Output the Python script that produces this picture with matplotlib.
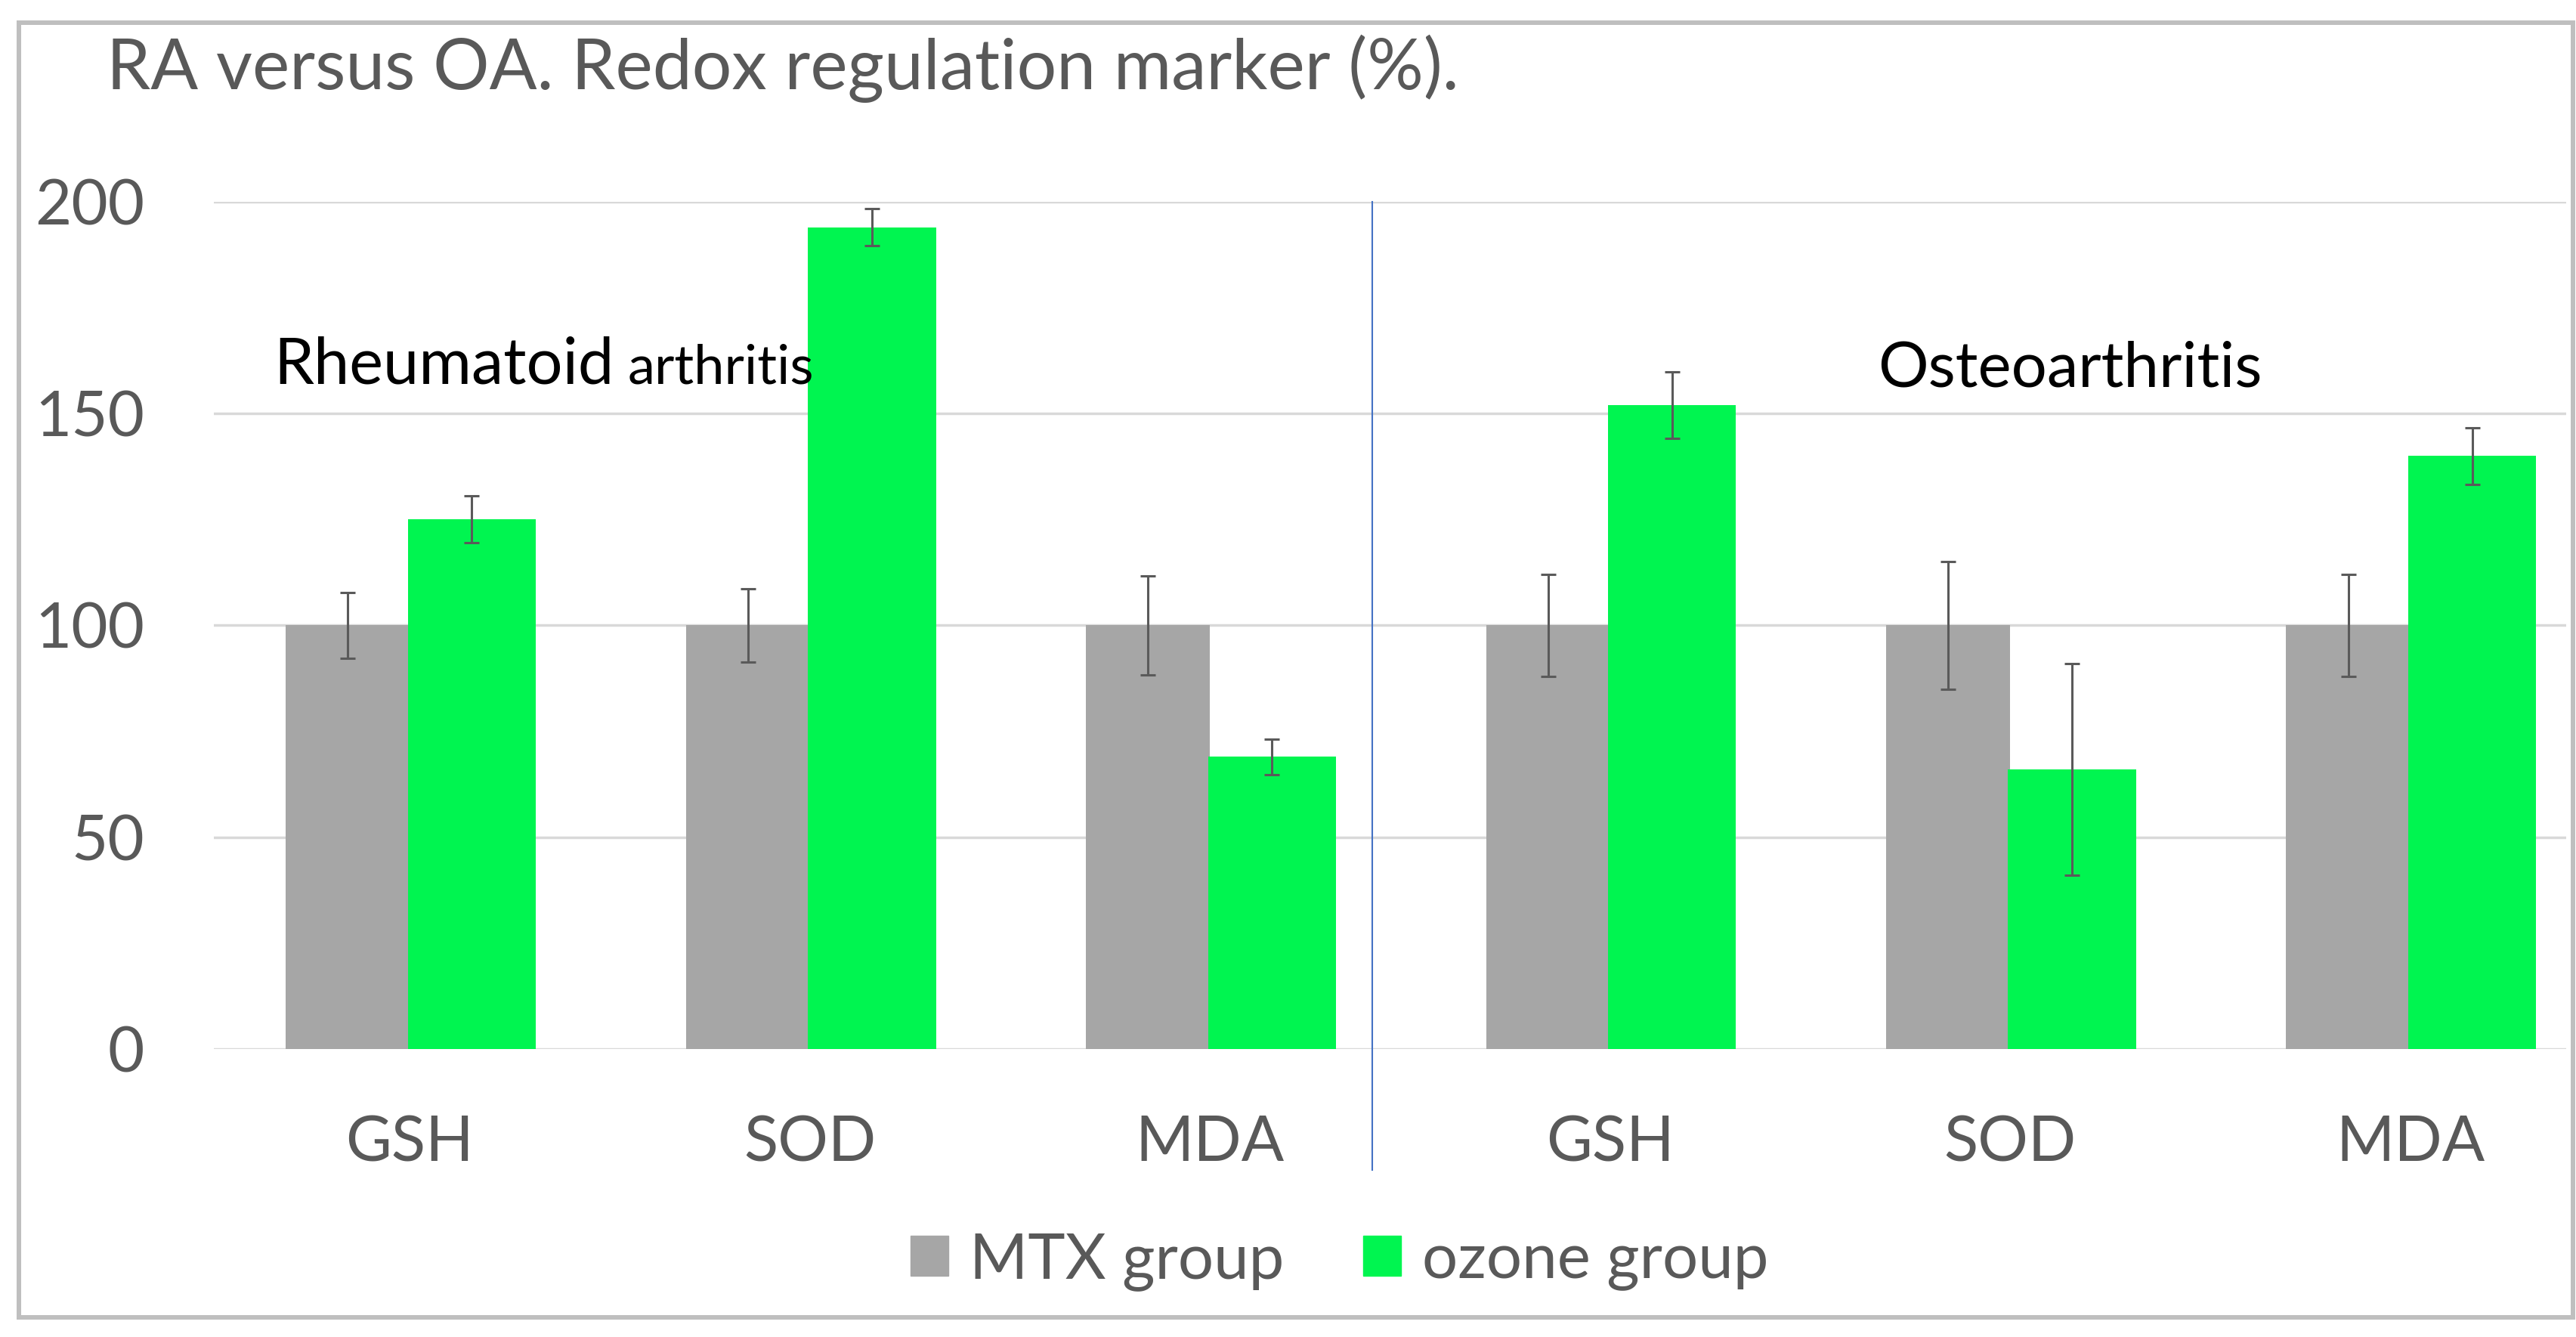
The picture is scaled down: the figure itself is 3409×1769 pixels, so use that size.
import numpy as np
import matplotlib
matplotlib.use('Agg')
import matplotlib.pyplot as plt
from matplotlib.patches import Patch, Rectangle

plt.rcParams['font.family'] = ['Lato', 'DejaVu Sans']

# data
categories = ['GSH', 'SOD', 'MDA', 'GSH', 'SOD', 'MDA']
mtx = [100, 100, 100, 100, 100, 100]
mtx_err = [7.8, 8.6, 11.7, 12.0, 15.0, 12.0]
ozone = [125, 194, 69, 152, 66, 140]
ozone_err = [5.5, 4.4, 4.2, 7.9, 25.0, 6.7]
yticks = [0, 50, 100, 150, 200]

grey = '#A6A6A6'
green = '#00F550'
txt = '#595959'

fig = plt.figure(figsize=(34.09, 17.69), dpi=100)
ax = fig.add_axes([0.0830, 0.2154, 0.9132, 0.6337])

x = np.arange(len(categories))
w = 0.31

ax.bar(x - w/2, mtx, w, color=grey, zorder=2, label='MTX group')
ax.bar(x + w/2, ozone, w + 0.01, color=green, zorder=2, label='ozone group')
ax.errorbar(x - w/2, mtx, yerr=mtx_err, fmt='none', ecolor='#5A5A5A',
            elinewidth=2.2, capsize=7.5, capthick=2.2, zorder=3)
ax.errorbar(x + w/2, ozone, yerr=ozone_err, fmt='none', ecolor='#5A5A5A',
            elinewidth=2.2, capsize=7.5, capthick=2.2, zorder=3)

ax.set_xlim(-0.49, 5.39)
ax.set_ylim(0, 200)
ax.set_yticks(yticks)
ax.set_xticks(x)
ax.set_xticklabels(categories)
ax.yaxis.grid(True, color='#D9D9D9', linewidth=2.5, zorder=0)
ax.set_axisbelow(True)
for s in ax.spines.values():
    s.set_visible(False)
ax.tick_params(axis='y', length=0, pad=66, labelsize=60, labelcolor=txt)
ax.tick_params(axis='x', length=0, pad=63, labelsize=60, labelcolor=txt)

# separator between RA and OA
ax.axvline(2.406, ymin=-0.1427, ymax=1.0, color='#4472C4', linewidth=1.5,
           clip_on=False, zorder=4)

ax.text(-0.341, 157, 'Rheumatoid', fontsize=61, color='black', va='baseline', zorder=5)
ax.text(0.545, 157, 'arthritis', fontsize=52, color='black', va='baseline', zorder=5)
ax.text(3.67, 156.4, 'Osteoarthritis', fontsize=60, color='black', va='baseline', zorder=5)

fig.text(0.0414, 0.9333, 'RA versus OA. Redox regulation marker (%).',
         fontsize=67, color=txt, va='baseline', ha='left')

handles = [Patch(color=grey, label='MTX group'), Patch(color=green, label='ozone group')]
fig.legend(handles=handles, loc='center', bbox_to_anchor=(0.52, 0.0565), ncol=2,
           frameon=False, fontsize=60, labelcolor=txt, handlelength=0.6,
           handleheight=0.6, handletextpad=0.34, columnspacing=1.25)

fig.add_artist(Rectangle((0.0073, 0.0147), 0.9915, 0.9683, transform=fig.transFigure,
                         fill=False, edgecolor='#BFBFBF', linewidth=4.3))

plt.savefig('out.png', dpi=100)
